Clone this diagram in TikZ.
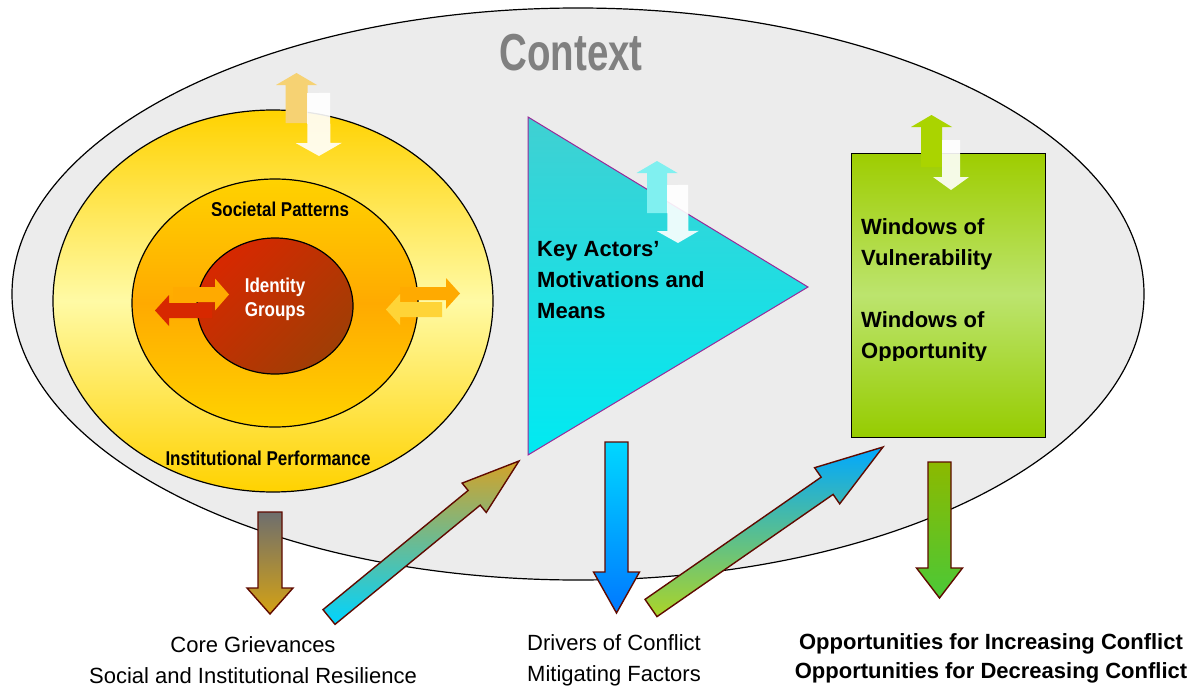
\documentclass[tikz,border=0pt]{standalone}
\usepackage{fontspec}
\setmainfont{Liberation Sans}
\usetikzlibrary{calc}
\definecolor{ctxbg}{RGB}{236,236,236}
\definecolor{ctxtxt}{RGB}{128,128,128}
\definecolor{goldY}{RGB}{255,210,0}
\definecolor{paleY}{RGB}{255,250,165}
\definecolor{orng}{RGB}{255,170,0}
\definecolor{redA}{RGB}{215,40,0}
\definecolor{redB}{RGB}{160,62,5}
\definecolor{triA}{RGB}{64,208,210}
\definecolor{triB}{RGB}{0,234,242}
\definecolor{triBorder}{RGB}{153,40,153}
\definecolor{grnA}{RGB}{158,205,0}
\definecolor{grnM}{RGB}{188,228,110}
\definecolor{grnB}{RGB}{150,204,0}
\definecolor{arrBorder}{RGB}{95,10,0}
\definecolor{upOr}{RGB}{246,210,115}
\definecolor{upCy}{RGB}{128,240,240}
\definecolor{upGr}{RGB}{170,212,0}
\newcommand{\blockarr}[6]{%
  \coordinate (#2-h) at ($(#3)!#6!(#2)$);
  \path[#1] ($(#2)!#4!90:(#3)$) -- ($(#2-h)!#4!-90:(#2)$) -- ($(#2-h)!#5!-90:(#2)$) -- (#3)
    -- ($(#2-h)!#5!90:(#2)$) -- ($(#2-h)!#4!90:(#2)$) -- ($(#2)!#4!-90:(#3)$) -- cycle;}
\newcommand{\nar}[1]{\scalebox{0.85}[1]{#1}}
\begin{document}
\begin{tikzpicture}[x=1pt,y=-1pt,
  shapeline/.style={draw=black,line width=1.2pt},
  whitearr/.style={fill=white,fill opacity=0.9,draw=none},
  bigarr/.style={draw=arrBorder,line width=1.4pt},
  lbl/.style={font=\fontsize{22}{31}\selectfont,align=center,inner sep=0pt},
  blbl/.style={font=\fontsize{22}{29}\selectfont\bfseries,align=center,inner sep=0pt},
  intxt/.style={font=\fontsize{22}{31}\selectfont\bfseries,align=left,inner sep=0pt,anchor=west},
  ringtxt/.style={font=\fontsize{20}{24}\selectfont\bfseries,inner sep=0pt}]
\useasboundingbox (0,0) rectangle (1194,693);
% context ellipse
\path[shapeline,fill=ctxbg] (578,294) ellipse [x radius=566,y radius=286];
\node[text=ctxtxt,inner sep=0pt] (ctx) at (571,53) {\scalebox{0.74}[1]{\fontsize{52}{52}\selectfont\bfseries Context}};
% rings
\path[shapeline,top color=goldY,bottom color=goldY,middle color=paleY] (273,301) ellipse [x radius=220,y radius=191];
\path[shapeline,top color=goldY,bottom color=goldY,middle color=orng] (275,303) ellipse [x radius=143,y radius=124];
\path[shapeline,left color=redA,right color=redB,shading angle=45] (275,306) ellipse [x radius=78,y radius=68];
\node[text=white,font=\fontsize{20}{24}\selectfont\bfseries,align=center,inner sep=0pt] (idg) at (275,299) {\nar{Identity}\\\nar{Groups}};
\begin{scope}
  \clip (150,190) rectangle (420,215.5);
  \node[ringtxt,anchor=base] (soc) at (280,216.5) {\nar{Societal Patterns}};
\end{scope}
\node[ringtxt] (inst) at (268,458) {\nar{Institutional Performance}};
% arrows in rings
\coordinate (la1t) at (173,294.5); \coordinate (la1h) at (229,294.5);
\blockarr{fill=orng}{la1t}{la1h}{7.5pt}{16pt}{14pt}
\coordinate (la2t) at (212,310.5); \coordinate (la2h) at (155,310.5);
\blockarr{fill=redA}{la2t}{la2h}{7.5pt}{15.5pt}{14pt}
\coordinate (ra1t) at (400,293.5); \coordinate (ra1h) at (460,293.5);
\blockarr{fill=orng}{ra1t}{ra1h}{6.5pt}{15.5pt}{14pt}
\coordinate (ra2t) at (442,309.5); \coordinate (ra2h) at (386,309.5);
\blockarr{fill={rgb,255:red,255;green,212;blue,55}}{ra2t}{ra2h}{7.5pt}{15.5pt}{14pt}
% triangle
\path[draw=triBorder,line width=1pt,top color=triA,bottom color=triB] (528,117) -- (808,287) -- (528,455) -- cycle;
\node[intxt] (key) at (537,280) {Key Actors’\\Motivations and\\Means};
% green rect
\path[draw=black,line width=1pt,top color=grnA,bottom color=grnB,middle color=grnM] (851,153) rectangle (1045,437);
\node[intxt] (win1) at (861,244) {Windows of\\Vulnerability};
\begin{scope}
  \clip (855,300) rectangle (1040,360.5);
  \node[intxt] (win2) at (861,337) {Windows of\\Opportunity};
\end{scope}
% up/down pairs
\coordinate (u1t) at (296.5,123); \coordinate (u1h) at (296.5,73);
\blockarr{fill=upOr}{u1t}{u1h}{11pt}{20.5pt}{12pt}
\coordinate (d1t) at (318.5,93); \coordinate (d1h) at (319,156);
\blockarr{whitearr}{d1t}{d1h}{11.5pt}{23pt}{13pt}
\coordinate (u2t) at (657,213); \coordinate (u2h) at (657,161);
\blockarr{fill=upCy}{u2t}{u2h}{10pt}{20.5pt}{12pt}
\coordinate (d2t) at (677.5,185); \coordinate (d2h) at (678,243);
\blockarr{whitearr}{d2t}{d2h}{10.5pt}{21pt}{12pt}
\coordinate (u3t) at (931.5,167); \coordinate (u3h) at (931.5,115);
\blockarr{fill=upGr}{u3t}{u3h}{10.5pt}{20.5pt}{12pt}
\coordinate (d3t) at (951,140); \coordinate (d3h) at (951,190);
\blockarr{whitearr}{d3t}{d3h}{9pt}{18pt}{13pt}
% big arrows
\coordinate (b1t) at (270,512); \coordinate (b1h) at (270,614);
\blockarr{bigarr,top color={rgb,255:red,110;green,110;blue,110},bottom color={rgb,255:red,212;green,162;blue,20}}{b1t}{b1h}{12pt}{23pt}{26pt}
\coordinate (b2t) at (329,617); \coordinate (b2h) at (519,461);
\blockarr{bigarr,bottom color={rgb,255:red,0;green,212;blue,255},top color={rgb,255:red,212;green,162;blue,40}}{b2t}{b2h}{9.5pt}{19pt}{58pt}
\coordinate (b3t) at (616.5,442); \coordinate (b3h) at (616.5,613);
\blockarr{bigarr,top color={rgb,255:red,0;green,215;blue,255},bottom color={rgb,255:red,0;green,120;blue,255}}{b3t}{b3h}{11.5pt}{23pt}{41pt}
\coordinate (b4t) at (651,608); \coordinate (b4h) at (883,447);
\blockarr{bigarr,bottom color={rgb,255:red,172;green,212;blue,40},top color={rgb,255:red,0;green,168;blue,255}}{b4t}{b4h}{10.5pt}{22pt}{68pt}
\coordinate (b5t) at (939.5,462); \coordinate (b5h) at (939.5,598);
\blockarr{bigarr,top color={rgb,255:red,140;green,185;blue,0},bottom color={rgb,255:red,75;green,200;blue,55}}{b5t}{b5h}{11.5pt}{23pt}{30pt}
% bottom labels
\node[lbl] (core) at (253,660) {Core Grievances\\Social and Institutional Resilience};
\node[lbl] (drv) at (614,660) {Drivers of Conflict\\Mitigating Factors};
\node[blbl] (opp) at (991,658) {Opportunities for Increasing Conflict\\Opportunities for Decreasing Conflict};
\end{tikzpicture}
\end{document}
